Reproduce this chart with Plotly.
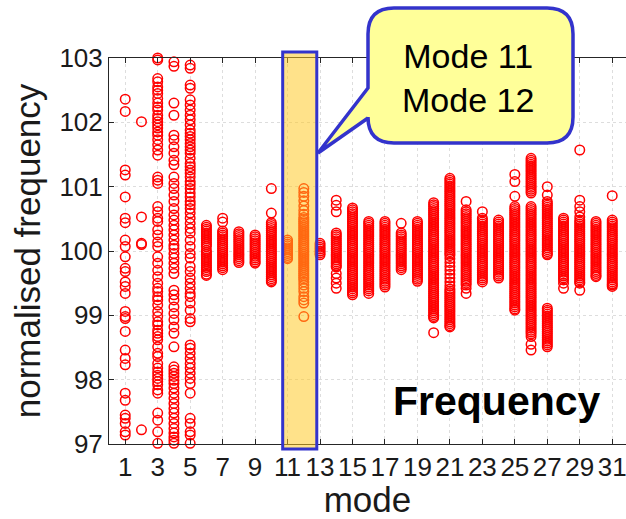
import plotly.graph_objects as go

# ---------------- data ----------------
mode_numbers = list(range(1, 32))
x_tick_vals = list(range(1, 32, 2))
y_tick_vals = [97, 98, 99, 100, 101, 102, 103]

mode1 = [102.36, 102.17, 101.26, 101.18, 100.84, 100.51, 100.44, 100.17, 100.07,
         99.91, 99.73, 99.68, 99.52, 99.45, 99.34, 99.06, 98.98, 98.95, 98.75,
         98.46, 98.33, 98.23, 97.79, 97.68, 97.45, 97.40, 97.32, 97.19, 97.14]
mode2 = [102.01, 100.53, 100.12, 100.10, 97.22]
mode3 = [103.00, 102.97, 102.68, 102.63, 102.55, 102.50, 102.45, 102.37, 102.30,
         102.24, 102.19, 102.11, 102.06, 102.01, 101.96, 101.91, 101.85, 101.80,
         101.73, 101.65, 101.57, 101.49, 101.15, 101.10, 101.05, 100.69, 100.61,
         100.51, 100.46, 100.33, 100.25, 100.14, 100.07, 99.91, 99.81, 99.70,
         99.60, 99.50, 99.42, 99.37, 99.29, 99.24, 99.16, 99.06, 98.98, 98.90,
         98.85, 98.77, 98.72, 98.67, 98.62, 98.51, 98.41, 98.36, 98.25, 98.18,
         98.12, 98.07, 98.02, 97.97, 97.92, 97.84, 97.79, 97.48, 97.37, 97.19, 97.01]
mode4 = [102.94, 102.87, 102.30, 102.11, 101.80, 101.73, 101.62, 101.52, 101.41,
         101.34, 101.15, 101.05, 100.97, 100.87, 100.77, 100.66, 100.56, 100.48,
         100.40, 100.33, 100.25, 100.17, 100.09, 100.04, 99.96, 99.89, 99.81,
         99.73, 99.65, 99.39, 99.32, 99.24, 99.13, 99.03, 98.93, 98.82, 98.72,
         98.51, 98.20, 98.15, 98.10, 98.05, 97.99, 97.94, 97.87, 97.79, 97.71,
         97.63, 97.55, 97.48, 97.40, 97.32, 97.24, 97.17, 97.11, 97.06, 97.01]
mode5 = [102.89, 102.84, 102.58, 102.53, 102.35, 102.27, 102.19, 102.11, 102.04,
         101.96, 101.88, 101.83, 101.78, 101.73, 101.67, 101.62, 101.57, 101.52,
         101.44, 101.36, 101.31, 101.26, 101.21, 101.15, 101.08, 101.03, 100.97,
         100.90, 100.84, 100.77, 100.72, 100.66, 100.59, 100.51, 100.43, 100.35,
         100.28, 100.17, 100.07, 99.96, 99.89, 99.76, 99.68, 99.58, 99.50, 99.42,
         99.34, 99.29, 99.19, 99.08, 98.95, 98.90, 98.54, 98.49, 98.41, 98.33,
         98.25, 98.18, 98.10, 98.02, 97.94, 97.79, 97.40, 97.32, 97.19, 97.14, 97.01]
mode6 = [100.40, 100.37, 100.34, 100.31, 100.28, 100.25, 100.22, 100.19, 100.16,
         100.13, 100.10, 100.07, 100.01, 99.98, 99.95, 99.92, 99.89, 99.86, 99.83,
         99.80, 99.77, 99.74, 99.71, 99.68, 99.64, 99.62]
mode7 = [100.51, 100.45, 100.31, 100.28, 100.25, 100.22, 100.19, 100.16, 100.13,
         100.10, 100.07, 100.04, 100.01, 99.98, 99.95, 99.92, 99.89, 99.86, 99.83,
         99.80, 99.77, 99.74, 99.71]
mode8 = [100.30, 100.27, 100.24, 100.21, 100.18, 100.15, 100.12, 100.09, 100.06,
         100.03, 100.00, 99.97, 99.94, 99.91, 99.88, 99.85, 99.82]
mode9 = [100.25, 100.22, 100.19, 100.16, 100.13, 100.10, 100.07, 100.04, 100.01,
         99.98, 99.95, 99.92, 99.89, 99.86, 99.83, 99.81]
mode10 = [100.97, 100.59, 100.44, 100.41, 100.38, 100.35, 100.32, 100.29, 100.26,
          100.23, 100.20, 100.17, 100.14, 100.11, 100.08, 100.05, 100.02, 99.99,
          99.96, 99.93, 99.90, 99.87, 99.84, 99.81, 99.78, 99.75, 99.72, 99.69,
          99.66, 99.63, 99.60, 99.57, 99.54, 99.52]
mode11 = [100.17, 100.14, 100.11, 100.08, 100.05, 100.02, 99.99, 99.96, 99.93,
          99.90, 99.88]
mode12 = [100.97, 100.91, 100.85, 100.78, 100.70, 100.63, 100.57, 100.52, 100.49,
          100.46, 100.43, 100.40, 100.37, 100.34, 100.31, 100.28, 100.25, 100.22,
          100.19, 100.16, 100.13, 100.10, 100.07, 100.04, 100.01, 99.98, 99.95,
          99.92, 99.89, 99.86, 99.83, 99.80, 99.77, 99.74, 99.71, 99.68, 99.65,
          99.62, 99.59, 99.56, 99.52, 99.47, 99.42, 99.37, 99.29, 99.24, 99.19, 98.98]
mode13 = [100.12, 100.09, 100.06, 100.03, 100.00, 99.97, 99.94]
mode14 = [100.79, 100.71, 100.61, 100.28, 100.25, 100.22, 100.19, 100.16, 100.13,
          100.10, 100.07, 100.04, 100.01, 99.98, 99.95, 99.92, 99.89, 99.86, 99.83,
          99.80, 99.77, 99.75, 99.65, 99.58, 99.50, 99.42]
mode15 = [100.67, 100.64, 100.61, 100.58, 100.55, 100.52, 100.49, 100.46, 100.43,
          100.40, 100.37, 100.34, 100.31, 100.28, 100.25, 100.22, 100.19, 100.16,
          100.13, 100.10, 100.07, 100.04, 100.01, 99.98, 99.95, 99.92, 99.89, 99.86,
          99.83, 99.80, 99.77, 99.74, 99.71, 99.68, 99.65, 99.62, 99.59, 99.56,
          99.53, 99.50, 99.47, 99.44, 99.41, 99.38, 99.35, 99.32]
mode16 = [100.46, 100.43, 100.40, 100.37, 100.34, 100.31, 100.28, 100.25, 100.22,
          100.19, 100.16, 100.13, 100.10, 100.07, 100.04, 100.01, 99.98, 99.95,
          99.92, 99.89, 99.86, 99.83, 99.80, 99.77, 99.74, 99.71, 99.68, 99.65,
          99.62, 99.59, 99.56, 99.53, 99.50, 99.47, 99.44, 99.41, 99.38, 99.34]
mode17 = [100.46, 100.43, 100.40, 100.37, 100.34, 100.31, 100.28, 100.25, 100.22,
          100.19, 100.16, 100.13, 100.10, 100.07, 100.04, 100.01, 99.98, 99.95,
          99.92, 99.89, 99.86, 99.83, 99.80, 99.77, 99.74, 99.71, 99.68, 99.65,
          99.62, 99.59, 99.56, 99.53, 99.50, 99.47, 99.44]
mode18 = [100.43, 100.28, 100.25, 100.22, 100.19, 100.16, 100.13, 100.10, 100.07,
          100.04, 100.01, 99.98, 99.95, 99.92, 99.89, 99.86, 99.83, 99.80, 99.77,
          99.74, 99.71]
mode19 = [100.46, 100.43, 100.40, 100.37, 100.34, 100.31, 100.28, 100.25, 100.22,
          100.19, 100.16, 100.13, 100.10, 100.07, 100.04, 100.01, 99.98, 99.95,
          99.92, 99.89, 99.86, 99.83, 99.80, 99.77, 99.74, 99.71, 99.68, 99.65,
          99.62, 99.59, 99.56, 99.53]
mode20 = [100.75, 100.72, 100.69, 100.66, 100.63, 100.60, 100.57, 100.54, 100.51,
          100.48, 100.45, 100.42, 100.39, 100.36, 100.33, 100.30, 100.27, 100.24,
          100.21, 100.18, 100.15, 100.12, 100.09, 100.06, 100.03, 100.00, 99.97,
          99.94, 99.91, 99.88, 99.85, 99.82, 99.79, 99.76, 99.73, 99.70, 99.67,
          99.64, 99.61, 99.58, 99.55, 99.52, 99.49, 99.46, 99.43, 99.40, 99.37,
          99.34, 99.31, 99.28, 99.25, 99.22, 99.19, 99.16, 99.13, 99.10, 99.07,
          99.04, 99.01, 98.98, 98.96, 98.73]
mode21 = [101.13, 101.10, 101.07, 101.04, 101.01, 100.98, 100.95, 100.92, 100.89,
          100.86, 100.83, 100.80, 100.77, 100.74, 100.71, 100.68, 100.65, 100.62,
          100.59, 100.56, 100.53, 100.50, 100.47, 100.44, 100.41, 100.38, 100.35,
          100.32, 100.29, 100.26, 100.23, 100.20, 100.17, 100.14, 100.11, 100.08,
          100.05, 100.02, 99.99, 99.96, 99.93, 99.88, 99.82, 99.76, 99.70, 99.64,
          99.58, 99.52, 99.46, 99.41, 99.38, 99.35, 99.32, 99.29, 99.26, 99.23,
          99.20, 99.17, 99.14, 99.11, 99.08, 99.05, 99.02, 98.99, 98.96, 98.93,
          98.90, 98.87, 98.84, 98.82]
mode22 = [100.77, 100.64, 100.61, 100.58, 100.55, 100.52, 100.49, 100.46, 100.43,
          100.40, 100.37, 100.34, 100.31, 100.28, 100.25, 100.22, 100.19, 100.16,
          100.13, 100.10, 100.07, 100.04, 100.01, 99.98, 99.95, 99.92, 99.89, 99.86,
          99.83, 99.80, 99.77, 99.74, 99.71, 99.68, 99.65, 99.62, 99.59, 99.56,
          99.53, 99.50, 99.47, 99.42, 99.34]
mode23 = [100.61, 100.51, 100.48, 100.45, 100.42, 100.39, 100.36, 100.33, 100.30,
          100.27, 100.24, 100.21, 100.18, 100.15, 100.12, 100.09, 100.06, 100.03,
          100.00, 99.97, 99.94, 99.91, 99.88, 99.85, 99.82, 99.79, 99.76, 99.73,
          99.70, 99.67, 99.64, 99.61, 99.58, 99.55, 99.52]
mode24 = [100.48, 100.45, 100.42, 100.39, 100.36, 100.33, 100.30, 100.27, 100.24,
          100.21, 100.18, 100.15, 100.12, 100.09, 100.06, 100.03, 100.00, 99.97,
          99.94, 99.91, 99.88, 99.85, 99.82, 99.79, 99.76, 99.73, 99.70, 99.67,
          99.64, 99.61, 99.58]
mode25 = [101.19, 101.08, 100.85, 100.69, 100.66, 100.63, 100.60, 100.57, 100.54,
          100.51, 100.48, 100.45, 100.42, 100.39, 100.36, 100.33, 100.30, 100.27,
          100.24, 100.21, 100.18, 100.15, 100.12, 100.09, 100.06, 100.03, 100.00,
          99.97, 99.94, 99.91, 99.88, 99.85, 99.82, 99.79, 99.76, 99.73, 99.70,
          99.67, 99.64, 99.61, 99.58, 99.55, 99.52, 99.49, 99.46, 99.43, 99.40,
          99.37, 99.34, 99.31, 99.28, 99.25, 99.22, 99.19, 99.16, 99.13, 99.10, 99.08]
mode26 = [101.44, 101.41, 101.38, 101.35, 101.32, 101.29, 101.26, 101.23, 101.20,
          101.17, 101.14, 101.11, 101.08, 101.05, 101.02, 100.99, 100.96, 100.93,
          100.90,
          100.69, 100.66, 100.63, 100.60, 100.57, 100.54, 100.51, 100.48, 100.45,
          100.42, 100.39, 100.36, 100.33, 100.30, 100.27, 100.24, 100.21, 100.18,
          100.15, 100.12, 100.09, 100.06, 100.03, 100.00, 99.97, 99.94, 99.91,
          99.88, 99.85, 99.82, 99.79, 99.76, 99.73, 99.70, 99.67, 99.64, 99.61,
          99.58, 99.55, 99.52, 99.49, 99.46, 99.43, 99.40, 99.37, 99.34, 99.31,
          99.28, 99.25, 99.22, 99.19, 99.16, 99.13, 99.10, 99.07, 99.04, 99.01,
          98.98, 98.95, 98.92, 98.89, 98.86, 98.83, 98.80, 98.77, 98.74, 98.71,
          98.67, 98.55, 98.46]
mode27 = [101.00, 100.87, 100.77, 100.74, 100.71, 100.68, 100.65, 100.62, 100.59,
          100.56, 100.53, 100.50, 100.47, 100.44, 100.41, 100.38, 100.35, 100.32,
          100.29, 100.26, 100.23, 100.20, 100.17, 100.14, 100.11, 100.08, 100.05,
          100.02, 99.99, 99.96, 99.94,
          99.11, 99.08, 99.05, 99.02, 98.99, 98.96, 98.93, 98.90, 98.87, 98.84,
          98.81, 98.78, 98.75, 98.72, 98.69, 98.66, 98.63, 98.60, 98.57, 98.54, 98.51]
mode28 = [100.51, 100.48, 100.45, 100.42, 100.39, 100.36, 100.33, 100.30, 100.27,
          100.24, 100.21, 100.18, 100.15, 100.12, 100.09, 100.06, 100.03, 100.00,
          99.97, 99.94, 99.91, 99.88, 99.85, 99.82, 99.79, 99.76, 99.73, 99.70,
          99.67, 99.64, 99.61, 99.58, 99.55, 99.50, 99.42]
mode29 = [101.57, 100.79, 100.69, 100.61, 100.53, 100.48, 100.45, 100.42, 100.39,
          100.36, 100.33, 100.30, 100.27, 100.24, 100.21, 100.18, 100.15, 100.12,
          100.09, 100.06, 100.03, 100.00, 99.97, 99.94, 99.91, 99.88, 99.85, 99.82,
          99.79, 99.76, 99.73, 99.70, 99.67, 99.64, 99.61, 99.58, 99.55, 99.52,
          99.50, 99.39]
mode30 = [100.46, 100.43, 100.40, 100.37, 100.34, 100.31, 100.28, 100.25, 100.22,
          100.19, 100.16, 100.13, 100.10, 100.07, 100.04, 100.01, 99.98, 99.95,
          99.92, 99.89, 99.86, 99.83, 99.80, 99.77, 99.74, 99.71, 99.68, 99.65,
          99.62, 99.60]
mode31 = [100.86, 100.48, 100.45, 100.42, 100.39, 100.36, 100.33, 100.30, 100.27,
          100.24, 100.21, 100.18, 100.15, 100.12, 100.09, 100.06, 100.03, 100.00,
          99.97, 99.94, 99.91, 99.88, 99.85, 99.82, 99.79, 99.76, 99.73, 99.70,
          99.67, 99.64, 99.61, 99.58, 99.55, 99.52, 99.49, 99.47, 99.45]

mode_values = [mode1, mode2, mode3, mode4, mode5, mode6, mode7, mode8, mode9, mode10,
               mode11, mode12, mode13, mode14, mode15, mode16, mode17, mode18, mode19,
               mode20, mode21, mode22, mode23, mode24, mode25, mode26, mode27, mode28,
               mode29, mode30, mode31]

highlight_modes = [11, 12]
callout_lines = ["Mode 11", "Mode 12"]
corner_label = "Frequency"

# ---------------- layout geometry ----------------
W, H = 626, 519
ML, MR, MT, MB = 109, 0, 58, 75
PW = W - ML - MR
PH = H - MT - MB
PX_PER_MODE = 16.233
X_RANGE = [0, PW / PX_PER_MODE]
Y_RANGE = [97, 103]


def to_px(xp):
    return (xp - ML) / PW


def to_py(yp):
    return (H - MB - yp) / PH


xs, ys = [], []
for m, vals in zip(mode_numbers, mode_values):
    xs.extend([m] * len(vals))
    ys.extend(vals)

FONT = "Liberation Sans, Arial, Helvetica, sans-serif"
BLUE = "#3333CC"
AXIS_COLOR = "#262626"

fig = go.Figure()
fig.add_trace(go.Scatter(
    x=xs, y=ys, mode="markers", cliponaxis=False,
    marker=dict(symbol="circle-open", size=9.5, color="#FF0000",
                line=dict(width=1.5, color="#FF0000")),
    showlegend=False, hoverinfo="x+y",
))

# highlight rectangle around modes 11 and 12 (drawn over the data, translucent)
hx0 = (highlight_modes[0] - 0.3) / X_RANGE[1]
hx1 = (highlight_modes[1] + 0.8) / X_RANGE[1]
fig.add_shape(type="rect", xref="paper", yref="paper",
              x0=hx0, x1=hx1, y0=to_py(449), y1=to_py(52),
              fillcolor="rgba(255,200,30,0.52)",
              line=dict(color=BLUE, width=3), layer="above")

# speech-bubble callout
bx0, bx1, by0, by1, r = 368, 573, 8, 143, 26
tip = (318, 153)
pts = [
    ("M", bx0 + r, by0), ("L", bx1 - r, by0), ("Q", bx1, by0, bx1, by0 + r),
    ("L", bx1, by1 - r), ("Q", bx1, by1, bx1 - r, by1), ("L", bx0 + r, by1),
    ("Q", bx0, by1, bx0, by1 - r), ("L", bx0, 118), ("L", tip[0], tip[1]),
    ("L", bx0, 88), ("L", bx0, by0 + r), ("Q", bx0, by0, bx0 + r, by0),
]
path = ""
for p in pts:
    cmd = p[0]
    coords = p[1:]
    seg = []
    for i in range(0, len(coords), 2):
        seg.append(f"{to_px(coords[i]):.5f},{to_py(coords[i + 1]):.5f}")
    path += cmd + " ".join(seg) + " "
path += "Z"
fig.add_shape(type="path", xref="paper", yref="paper", path=path,
              fillcolor="#FFFF99", line=dict(color=BLUE, width=3.5), layer="above")

fig.add_annotation(x=to_px(468), y=to_py(78), xref="paper", yref="paper",
                   xanchor="center", yanchor="middle",
                   text="<br>".join(callout_lines), showarrow=False,
                   font=dict(family=FONT, size=34, color="black"), align="center")

fig.add_annotation(x=to_px(497), y=to_py(401), xref="paper", yref="paper",
                   xanchor="center", yanchor="middle",
                   text=f"<b>{corner_label}</b>", showarrow=False,
                   font=dict(family=FONT, size=41, color="black"))

fig.update_layout(
    width=W, height=H,
    margin=dict(l=ML, r=MR, t=MT, b=MB, pad=0),
    paper_bgcolor="white", plot_bgcolor="white",
    font=dict(family=FONT, color=AXIS_COLOR),
    xaxis=dict(range=X_RANGE, tickmode="array", tickvals=x_tick_vals,
               ticktext=[str(v) for v in x_tick_vals], tickangle=0,
               ticklabeloverflow="allow",
               ticks="inside", ticklen=5, tickcolor=AXIS_COLOR,
               showline=True, linecolor=AXIS_COLOR, linewidth=1, mirror="allticks",
               showgrid=True, gridcolor="#DDDDDD", griddash="dot", gridwidth=1,
               zeroline=False, tickfont=dict(size=26, color="#1a1a1a"),
               title=dict(text="mode", font=dict(size=35, color="#1a1a1a"), standoff=10)),
    yaxis=dict(range=Y_RANGE, tickmode="array", tickvals=y_tick_vals,
               ticktext=[str(v) for v in y_tick_vals],
               ticks="inside", ticklen=5, tickcolor=AXIS_COLOR,
               showline=True, linecolor=AXIS_COLOR, linewidth=1, mirror=False,
               showgrid=True, gridcolor="#DDDDDD", griddash="dot", gridwidth=1,
               zeroline=False, tickfont=dict(size=26, color="#1a1a1a"),
               title=dict(text="normalised frequency", font=dict(size=35, color="#1a1a1a"),
                          standoff=8)),
)

fig.write_html("out.html")
